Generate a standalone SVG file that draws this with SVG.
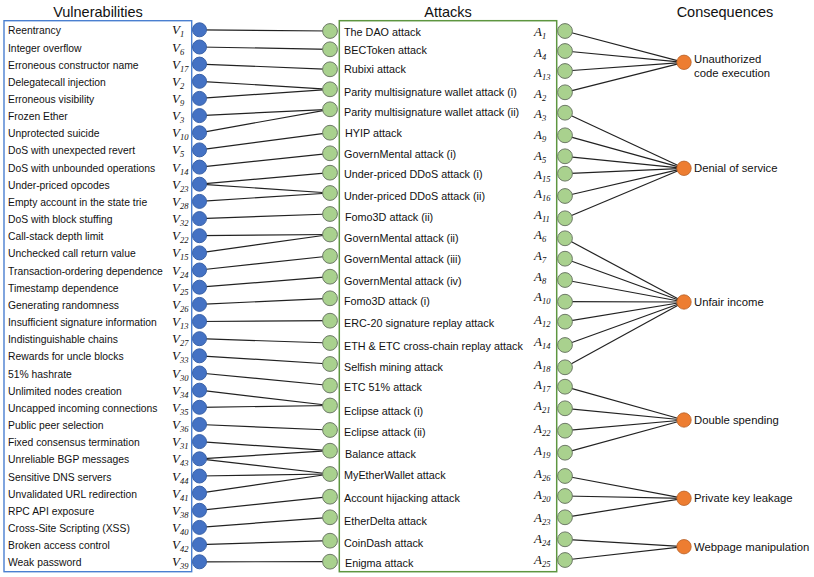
<svg xmlns="http://www.w3.org/2000/svg" width="814" height="577" viewBox="0 0 814 577">
<style>
text{font-family:"Liberation Sans",Arial,sans-serif;fill:#111}
.title{font-size:14.5px;text-anchor:middle}
.vt{font-size:10.35px}
.at{font-size:10.8px}
.ct{font-size:11.3px}
.lab{font-family:"Liberation Serif","Times New Roman",serif;font-style:italic;font-size:13px}
.sub{font-size:8.5px}
.vc{fill:#4472C4;stroke:#3A62A8;stroke-width:1}
.ac{fill:#A9D18E;stroke:#6E7A68;stroke-width:1}
.cc{fill:#ED7D31;stroke:#B8622A;stroke-width:0.8}
.edge{stroke:#222;stroke-width:1.2;fill:none}
.vbox{fill:none;stroke:#4A7FD0;stroke-width:1.4}
.abox{fill:none;stroke:#5E9640;stroke-width:1.5}
</style>

<g id="vulnerabilities-panel">
<text class="title" x="98" y="17">Vulnerabilities</text>
<rect class="vbox" x="4" y="20.7" width="187.7" height="551"/>
</g>
<g id="attacks-panel">
<text class="title" x="448" y="17">Attacks</text>
<rect class="abox" x="339.3" y="20.7" width="217.4" height="551"/>
</g>
<g id="consequences-panel">
<text class="title" x="725" y="17">Consequences</text>
</g>

<g id="connectors">
<line class="edge" x1="199.5" y1="29.8" x2="330" y2="31"/>
<line class="edge" x1="199.5" y1="47" x2="330" y2="49.3"/>
<line class="edge" x1="199.5" y1="64.1" x2="330" y2="69.3"/>
<line class="edge" x1="199.5" y1="81.3" x2="330" y2="89.3"/>
<line class="edge" x1="199.5" y1="98.4" x2="330" y2="89.3"/>
<line class="edge" x1="199.5" y1="115.6" x2="330" y2="109.3"/>
<line class="edge" x1="199.5" y1="132.8" x2="330" y2="109.3"/>
<line class="edge" x1="199.5" y1="149.9" x2="330" y2="132.7"/>
<line class="edge" x1="199.5" y1="167.1" x2="330" y2="153.3"/>
<line class="edge" x1="199.5" y1="184.2" x2="330" y2="172.7"/>
<line class="edge" x1="199.5" y1="184.2" x2="330" y2="193"/>
<line class="edge" x1="199.5" y1="201.4" x2="330" y2="193"/>
<line class="edge" x1="199.5" y1="218.6" x2="330" y2="214"/>
<line class="edge" x1="199.5" y1="235.7" x2="330" y2="234.5"/>
<line class="edge" x1="199.5" y1="252.9" x2="330" y2="234.5"/>
<line class="edge" x1="199.5" y1="270" x2="330" y2="256"/>
<line class="edge" x1="199.5" y1="287.2" x2="330" y2="276.7"/>
<line class="edge" x1="199.5" y1="304.4" x2="330" y2="298.3"/>
<line class="edge" x1="199.5" y1="321.5" x2="330" y2="320.7"/>
<line class="edge" x1="199.5" y1="338.7" x2="330" y2="343"/>
<line class="edge" x1="199.5" y1="355.8" x2="330" y2="364"/>
<line class="edge" x1="199.5" y1="373" x2="330" y2="385.5"/>
<line class="edge" x1="199.5" y1="390.2" x2="330" y2="405.5"/>
<line class="edge" x1="199.5" y1="407.3" x2="330" y2="405.5"/>
<line class="edge" x1="199.5" y1="424.5" x2="330" y2="430"/>
<line class="edge" x1="199.5" y1="441.6" x2="330" y2="450.7"/>
<line class="edge" x1="199.5" y1="458.8" x2="330" y2="450.7"/>
<line class="edge" x1="199.5" y1="458.8" x2="330" y2="474"/>
<line class="edge" x1="199.5" y1="476" x2="330" y2="474"/>
<line class="edge" x1="199.5" y1="493.1" x2="330" y2="474"/>
<line class="edge" x1="199.5" y1="510.3" x2="330" y2="496.7"/>
<line class="edge" x1="199.5" y1="527.4" x2="330" y2="517.3"/>
<line class="edge" x1="199.5" y1="544.6" x2="330" y2="540.7"/>
<line class="edge" x1="199.5" y1="561.8" x2="330" y2="561.7"/>

<line class="edge" x1="565" y1="31" x2="684" y2="62.3"/>
<line class="edge" x1="565" y1="51" x2="684" y2="62.3"/>
<line class="edge" x1="565" y1="71" x2="684" y2="62.3"/>
<line class="edge" x1="565" y1="92.3" x2="684" y2="62.3"/>
<line class="edge" x1="565" y1="112.7" x2="684" y2="168.3"/>
<line class="edge" x1="565" y1="135.3" x2="684" y2="168.3"/>
<line class="edge" x1="565" y1="156.3" x2="684" y2="168.3"/>
<line class="edge" x1="565" y1="173.7" x2="684" y2="168.3"/>
<line class="edge" x1="565" y1="196" x2="684" y2="168.3"/>
<line class="edge" x1="565" y1="218.3" x2="684" y2="168.3"/>
<line class="edge" x1="565" y1="238.3" x2="684" y2="302"/>
<line class="edge" x1="565" y1="258.7" x2="684" y2="302"/>
<line class="edge" x1="565" y1="280" x2="684" y2="302"/>
<line class="edge" x1="565" y1="301.7" x2="684" y2="302"/>
<line class="edge" x1="565" y1="321.7" x2="684" y2="302"/>
<line class="edge" x1="565" y1="345" x2="684" y2="302"/>
<line class="edge" x1="565" y1="367.3" x2="684" y2="302"/>
<line class="edge" x1="565" y1="386.7" x2="684" y2="420"/>
<line class="edge" x1="565" y1="408.3" x2="684" y2="420"/>
<line class="edge" x1="565" y1="430.7" x2="684" y2="420"/>
<line class="edge" x1="565" y1="452.7" x2="684" y2="420"/>
<line class="edge" x1="565" y1="476" x2="684" y2="498.3"/>
<line class="edge" x1="565" y1="496" x2="684" y2="498.3"/>
<line class="edge" x1="565" y1="517.3" x2="684" y2="498.3"/>
<line class="edge" x1="565" y1="539.3" x2="684" y2="546.7"/>
<line class="edge" x1="565" y1="560" x2="684" y2="546.7"/>
</g>

<!-- Vulnerabilities -->
<g id="v1"><text class="vt" x="8" y="34.3">Reentrancy</text><text class="lab" x="172" y="34.3">V<tspan class="sub" dy="3">1</tspan></text><circle class="vc" cx="199.5" cy="29.8" r="7"/></g>
<g id="v6"><text class="vt" x="8" y="51.5">Integer overflow</text><text class="lab" x="172" y="51.5">V<tspan class="sub" dy="3">6</tspan></text><circle class="vc" cx="199.5" cy="47" r="7"/></g>
<g id="v17"><text class="vt" x="8" y="68.6">Erroneous constructor name</text><text class="lab" x="172" y="68.6">V<tspan class="sub" dy="3">17</tspan></text><circle class="vc" cx="199.5" cy="64.1" r="7"/></g>
<g id="v2"><text class="vt" x="8" y="85.8">Delegatecall injection</text><text class="lab" x="172" y="85.8">V<tspan class="sub" dy="3">2</tspan></text><circle class="vc" cx="199.5" cy="81.3" r="7"/></g>
<g id="v9"><text class="vt" x="8" y="102.9">Erroneous visibility</text><text class="lab" x="172" y="102.9">V<tspan class="sub" dy="3">9</tspan></text><circle class="vc" cx="199.5" cy="98.4" r="7"/></g>
<g id="v3"><text class="vt" x="8" y="120.1">Frozen Ether</text><text class="lab" x="172" y="120.1">V<tspan class="sub" dy="3">3</tspan></text><circle class="vc" cx="199.5" cy="115.6" r="7"/></g>
<g id="v10"><text class="vt" x="8" y="137.3">Unprotected suicide</text><text class="lab" x="172" y="137.3">V<tspan class="sub" dy="3">10</tspan></text><circle class="vc" cx="199.5" cy="132.8" r="7"/></g>
<g id="v5"><text class="vt" x="8" y="154.4">DoS with unexpected revert</text><text class="lab" x="172" y="154.4">V<tspan class="sub" dy="3">5</tspan></text><circle class="vc" cx="199.5" cy="149.9" r="7"/></g>
<g id="v14"><text class="vt" x="8" y="171.6">DoS with unbounded operations</text><text class="lab" x="172" y="171.6">V<tspan class="sub" dy="3">14</tspan></text><circle class="vc" cx="199.5" cy="167.1" r="7"/></g>
<g id="v23"><text class="vt" x="8" y="188.7">Under-priced opcodes</text><text class="lab" x="172" y="188.7">V<tspan class="sub" dy="3">23</tspan></text><circle class="vc" cx="199.5" cy="184.2" r="7"/></g>
<g id="v28"><text class="vt" x="8" y="205.9">Empty account in the state trie</text><text class="lab" x="172" y="205.9">V<tspan class="sub" dy="3">28</tspan></text><circle class="vc" cx="199.5" cy="201.4" r="7"/></g>
<g id="v32"><text class="vt" x="8" y="223.1">DoS with block stuffing</text><text class="lab" x="172" y="223.1">V<tspan class="sub" dy="3">32</tspan></text><circle class="vc" cx="199.5" cy="218.6" r="7"/></g>
<g id="v22"><text class="vt" x="8" y="240.2">Call-stack depth limit</text><text class="lab" x="172" y="240.2">V<tspan class="sub" dy="3">22</tspan></text><circle class="vc" cx="199.5" cy="235.7" r="7"/></g>
<g id="v15"><text class="vt" x="8" y="257.4">Unchecked call return value</text><text class="lab" x="172" y="257.4">V<tspan class="sub" dy="3">15</tspan></text><circle class="vc" cx="199.5" cy="252.9" r="7"/></g>
<g id="v24"><text class="vt" x="8" y="274.5">Transaction-ordering dependence</text><text class="lab" x="172" y="274.5">V<tspan class="sub" dy="3">24</tspan></text><circle class="vc" cx="199.5" cy="270" r="7"/></g>
<g id="v25"><text class="vt" x="8" y="291.7">Timestamp dependence</text><text class="lab" x="172" y="291.7">V<tspan class="sub" dy="3">25</tspan></text><circle class="vc" cx="199.5" cy="287.2" r="7"/></g>
<g id="v26"><text class="vt" x="8" y="308.9">Generating randomness</text><text class="lab" x="172" y="308.9">V<tspan class="sub" dy="3">26</tspan></text><circle class="vc" cx="199.5" cy="304.4" r="7"/></g>
<g id="v13"><text class="vt" x="8" y="326">Insufficient signature information</text><text class="lab" x="172" y="326">V<tspan class="sub" dy="3">13</tspan></text><circle class="vc" cx="199.5" cy="321.5" r="7"/></g>
<g id="v27"><text class="vt" x="8" y="343.2">Indistinguishable chains</text><text class="lab" x="172" y="343.2">V<tspan class="sub" dy="3">27</tspan></text><circle class="vc" cx="199.5" cy="338.7" r="7"/></g>
<g id="v33"><text class="vt" x="8" y="360.3">Rewards for uncle blocks</text><text class="lab" x="172" y="360.3">V<tspan class="sub" dy="3">33</tspan></text><circle class="vc" cx="199.5" cy="355.8" r="7"/></g>
<g id="v30"><text class="vt" x="8" y="377.5">51% hashrate</text><text class="lab" x="172" y="377.5">V<tspan class="sub" dy="3">30</tspan></text><circle class="vc" cx="199.5" cy="373" r="7"/></g>
<g id="v34"><text class="vt" x="8" y="394.7">Unlimited nodes creation</text><text class="lab" x="172" y="394.7">V<tspan class="sub" dy="3">34</tspan></text><circle class="vc" cx="199.5" cy="390.2" r="7"/></g>
<g id="v35"><text class="vt" x="8" y="411.8">Uncapped incoming connections</text><text class="lab" x="172" y="411.8">V<tspan class="sub" dy="3">35</tspan></text><circle class="vc" cx="199.5" cy="407.3" r="7"/></g>
<g id="v36"><text class="vt" x="8" y="429">Public peer selection</text><text class="lab" x="172" y="429">V<tspan class="sub" dy="3">36</tspan></text><circle class="vc" cx="199.5" cy="424.5" r="7"/></g>
<g id="v31"><text class="vt" x="8" y="446.1">Fixed consensus termination</text><text class="lab" x="172" y="446.1">V<tspan class="sub" dy="3">31</tspan></text><circle class="vc" cx="199.5" cy="441.6" r="7"/></g>
<g id="v43"><text class="vt" x="8" y="463.3">Unreliable BGP messages</text><text class="lab" x="172" y="463.3">V<tspan class="sub" dy="3">43</tspan></text><circle class="vc" cx="199.5" cy="458.8" r="7"/></g>
<g id="v44"><text class="vt" x="8" y="480.5">Sensitive DNS servers</text><text class="lab" x="172" y="480.5">V<tspan class="sub" dy="3">44</tspan></text><circle class="vc" cx="199.5" cy="476" r="7"/></g>
<g id="v41"><text class="vt" x="8" y="497.6">Unvalidated URL redirection</text><text class="lab" x="172" y="497.6">V<tspan class="sub" dy="3">41</tspan></text><circle class="vc" cx="199.5" cy="493.1" r="7"/></g>
<g id="v38"><text class="vt" x="8" y="514.8">RPC API exposure</text><text class="lab" x="172" y="514.8">V<tspan class="sub" dy="3">38</tspan></text><circle class="vc" cx="199.5" cy="510.3" r="7"/></g>
<g id="v40"><text class="vt" x="8" y="531.9">Cross-Site Scripting (XSS)</text><text class="lab" x="172" y="531.9">V<tspan class="sub" dy="3">40</tspan></text><circle class="vc" cx="199.5" cy="527.4" r="7"/></g>
<g id="v42"><text class="vt" x="8" y="549.1">Broken access control</text><text class="lab" x="172" y="549.1">V<tspan class="sub" dy="3">42</tspan></text><circle class="vc" cx="199.5" cy="544.6" r="7"/></g>
<g id="v39"><text class="vt" x="8" y="566.3">Weak password</text><text class="lab" x="172" y="566.3">V<tspan class="sub" dy="3">39</tspan></text><circle class="vc" cx="199.5" cy="561.8" r="7"/></g>

<!-- Attacks -->
<g id="a1"><circle class="ac" cx="330" cy="31" r="7.4"/><text class="at" x="344" y="36.3">The DAO attack</text><text class="lab" x="534" y="36">A<tspan class="sub" dy="3">1</tspan></text><circle class="ac" cx="565" cy="31" r="7.4"/></g>
<g id="a4"><circle class="ac" cx="330" cy="49.3" r="7.4"/><text class="at" x="344" y="54">BECToken attack</text><text class="lab" x="534" y="57">A<tspan class="sub" dy="3">4</tspan></text><circle class="ac" cx="565" cy="51" r="7.4"/></g>
<g id="a13"><circle class="ac" cx="330" cy="69.3" r="7.4"/><text class="at" x="344" y="73.3">Rubixi attack</text><text class="lab" x="534" y="77">A<tspan class="sub" dy="3">13</tspan></text><circle class="ac" cx="565" cy="71" r="7.4"/></g>
<g id="a2"><circle class="ac" cx="330" cy="89.3" r="7.4"/><text class="at" x="344" y="95.7">Parity multisignature wallet attack (i)</text><text class="lab" x="534" y="98">A<tspan class="sub" dy="3">2</tspan></text><circle class="ac" cx="565" cy="92.3" r="7.4"/></g>
<g id="a3"><circle class="ac" cx="330" cy="109.3" r="7.4"/><text class="at" x="344" y="116">Parity multisignature wallet attack (ii)</text><text class="lab" x="534" y="118">A<tspan class="sub" dy="3">3</tspan></text><circle class="ac" cx="565" cy="112.7" r="7.4"/></g>
<g id="a9"><circle class="ac" cx="330" cy="132.7" r="7.4"/><text class="at" x="345" y="137">HYIP attack</text><text class="lab" x="534" y="139">A<tspan class="sub" dy="3">9</tspan></text><circle class="ac" cx="565" cy="135.3" r="7.4"/></g>
<g id="a5"><circle class="ac" cx="330" cy="153.3" r="7.4"/><text class="at" x="344" y="158">GovernMental attack (i)</text><text class="lab" x="534" y="160">A<tspan class="sub" dy="3">5</tspan></text><circle class="ac" cx="565" cy="156.3" r="7.4"/></g>
<g id="a15"><circle class="ac" cx="330" cy="172.7" r="7.4"/><text class="at" x="344" y="178">Under-priced DDoS attack (i)</text><text class="lab" x="534" y="179">A<tspan class="sub" dy="3">15</tspan></text><circle class="ac" cx="565" cy="173.7" r="7.4"/></g>
<g id="a16"><circle class="ac" cx="330" cy="193" r="7.4"/><text class="at" x="344" y="200">Under-priced DDoS attack (ii)</text><text class="lab" x="534" y="198">A<tspan class="sub" dy="3">16</tspan></text><circle class="ac" cx="565" cy="196" r="7.4"/></g>
<g id="a11"><circle class="ac" cx="330" cy="214" r="7.4"/><text class="at" x="345" y="220.7">Fomo3D attack (ii)</text><text class="lab" x="534" y="219">A<tspan class="sub" dy="3">11</tspan></text><circle class="ac" cx="565" cy="218.3" r="7.4"/></g>
<g id="a6"><circle class="ac" cx="330" cy="234.5" r="7.4"/><text class="at" x="344" y="241.7">GovernMental attack (ii)</text><text class="lab" x="534" y="239">A<tspan class="sub" dy="3">6</tspan></text><circle class="ac" cx="565" cy="238.3" r="7.4"/></g>
<g id="a7"><circle class="ac" cx="330" cy="256" r="7.4"/><text class="at" x="344" y="263">GovernMental attack (iii)</text><text class="lab" x="534" y="260">A<tspan class="sub" dy="3">7</tspan></text><circle class="ac" cx="565" cy="258.7" r="7.4"/></g>
<g id="a8"><circle class="ac" cx="330" cy="276.7" r="7.4"/><text class="at" x="344" y="284.7">GovernMental attack (iv)</text><text class="lab" x="534" y="281">A<tspan class="sub" dy="3">8</tspan></text><circle class="ac" cx="565" cy="280" r="7.4"/></g>
<g id="a10"><circle class="ac" cx="330" cy="298.3" r="7.4"/><text class="at" x="344" y="305">Fomo3D attack (i)</text><text class="lab" x="534" y="301">A<tspan class="sub" dy="3">10</tspan></text><circle class="ac" cx="565" cy="301.7" r="7.4"/></g>
<g id="a12"><circle class="ac" cx="330" cy="320.7" r="7.4"/><text class="at" x="344" y="327.3">ERC-20 signature replay attack</text><text class="lab" x="534" y="324">A<tspan class="sub" dy="3">12</tspan></text><circle class="ac" cx="565" cy="321.7" r="7.4"/></g>
<g id="a14"><circle class="ac" cx="330" cy="343" r="7.4"/><text class="at" x="344" y="349.7">ETH &amp; ETC cross-chain replay attack</text><text class="lab" x="534" y="346">A<tspan class="sub" dy="3">14</tspan></text><circle class="ac" cx="565" cy="345" r="7.4"/></g>
<g id="a18"><circle class="ac" cx="330" cy="364" r="7.4"/><text class="at" x="344" y="370.7">Selfish mining attack</text><text class="lab" x="534" y="369">A<tspan class="sub" dy="3">18</tspan></text><circle class="ac" cx="565" cy="367.3" r="7.4"/></g>
<g id="a17"><circle class="ac" cx="330" cy="385.5" r="7.4"/><text class="at" x="344" y="391.3">ETC 51% attack</text><text class="lab" x="534" y="389">A<tspan class="sub" dy="3">17</tspan></text><circle class="ac" cx="565" cy="386.7" r="7.4"/></g>
<g id="a21"><circle class="ac" cx="330" cy="405.5" r="7.4"/><text class="at" x="344" y="414.7">Eclipse attack (i)</text><text class="lab" x="534" y="410">A<tspan class="sub" dy="3">21</tspan></text><circle class="ac" cx="565" cy="408.3" r="7.4"/></g>
<g id="a22"><circle class="ac" cx="330" cy="430" r="7.4"/><text class="at" x="344" y="435.7">Eclipse attack (ii)</text><text class="lab" x="534" y="433">A<tspan class="sub" dy="3">22</tspan></text><circle class="ac" cx="565" cy="430.7" r="7.4"/></g>
<g id="a19"><circle class="ac" cx="330" cy="450.7" r="7.4"/><text class="at" x="345" y="458">Balance attack</text><text class="lab" x="534" y="455">A<tspan class="sub" dy="3">19</tspan></text><circle class="ac" cx="565" cy="452.7" r="7.4"/></g>
<g id="a26"><circle class="ac" cx="330" cy="474" r="7.4"/><text class="at" x="344" y="479">MyEtherWallet attack</text><text class="lab" x="534" y="478">A<tspan class="sub" dy="3">26</tspan></text><circle class="ac" cx="565" cy="476" r="7.4"/></g>
<g id="a20"><circle class="ac" cx="330" cy="496.7" r="7.4"/><text class="at" x="344" y="502.3">Account hijacking attack</text><text class="lab" x="534" y="499">A<tspan class="sub" dy="3">20</tspan></text><circle class="ac" cx="565" cy="496" r="7.4"/></g>
<g id="a23"><circle class="ac" cx="330" cy="517.3" r="7.4"/><text class="at" x="344" y="524.7">EtherDelta attack</text><text class="lab" x="534" y="522">A<tspan class="sub" dy="3">23</tspan></text><circle class="ac" cx="565" cy="517.3" r="7.4"/></g>
<g id="a24"><circle class="ac" cx="330" cy="540.7" r="7.4"/><text class="at" x="344" y="547.3">CoinDash attack</text><text class="lab" x="534" y="543">A<tspan class="sub" dy="3">24</tspan></text><circle class="ac" cx="565" cy="539.3" r="7.4"/></g>
<g id="a25"><circle class="ac" cx="330" cy="561.7" r="7.4"/><text class="at" x="345" y="566.7">Enigma attack</text><text class="lab" x="534" y="564">A<tspan class="sub" dy="3">25</tspan></text><circle class="ac" cx="565" cy="560" r="7.4"/></g>

<!-- Consequences -->
<g id="c-unauthorized"><circle class="cc" cx="684" cy="62.3" r="7.2"/><text class="ct" x="694" y="63">Unauthorized</text><text class="ct" x="694" y="76.5">code execution</text></g>
<g id="c-dos"><circle class="cc" cx="684" cy="168.3" r="7.2"/><text class="ct" x="694" y="172.3">Denial of service</text></g>
<g id="c-unfair"><circle class="cc" cx="684" cy="302" r="7.2"/><text class="ct" x="694" y="306">Unfair income</text></g>
<g id="c-double"><circle class="cc" cx="684" cy="420" r="7.2"/><text class="ct" x="694" y="424">Double spending</text></g>
<g id="c-private"><circle class="cc" cx="684" cy="498.3" r="7.2"/><text class="ct" x="694" y="502.3">Private key leakage</text></g>
<g id="c-webpage"><circle class="cc" cx="684" cy="546.7" r="7.2"/><text class="ct" x="694" y="550.7">Webpage manipulation</text></g>
</svg>
